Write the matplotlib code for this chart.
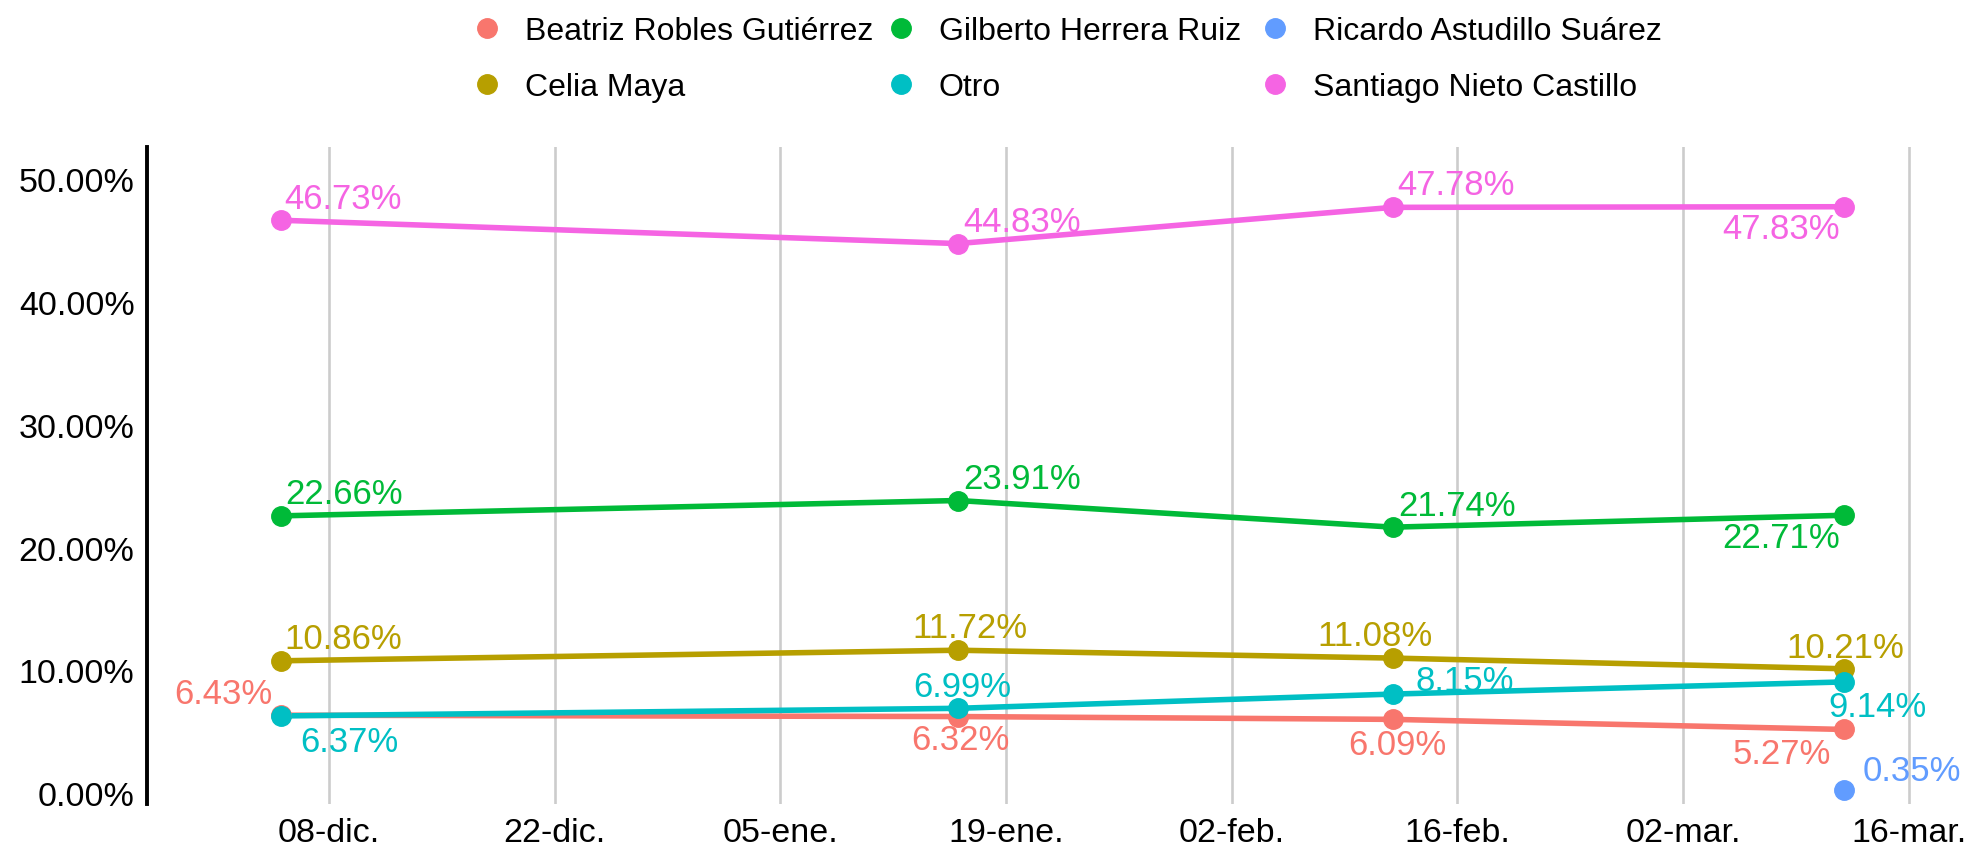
import matplotlib
matplotlib.use("Agg")
import matplotlib.pyplot as plt
import matplotlib.dates as mdates
from matplotlib.lines import Line2D
import numpy as np
import datetime as dt

plt.rcParams['font.family'] = ['Liberation Sans', 'DejaVu Sans']

# ---- data ----
dates = [dt.date(2024, 12, 5), dt.date(2025, 1, 16), dt.date(2025, 2, 12), dt.date(2025, 3, 12)]
candidates = ["Beatriz Robles Gutiérrez", "Celia Maya", "Gilberto Herrera Ruiz",
              "Otro", "Ricardo Astudillo Suárez", "Santiago Nieto Castillo"]
beatriz = [6.43, 6.32, 6.09, 5.27]
celia = [10.86, 11.72, 11.08, 10.21]
gilberto = [22.66, 23.91, 21.74, 22.71]
otro = [6.37, 6.99, 8.15, 9.14]
ricardo = [np.nan, np.nan, np.nan, 0.35]
santiago = [46.73, 44.83, 47.78, 47.83]
series = [beatriz, celia, gilberto, otro, ricardo, santiago]
tick_dates = [dt.date(2024, 12, 8), dt.date(2024, 12, 22), dt.date(2025, 1, 5), dt.date(2025, 1, 19),
              dt.date(2025, 2, 2), dt.date(2025, 2, 16), dt.date(2025, 3, 2), dt.date(2025, 3, 16)]
tick_labels = ["08-dic.", "22-dic.", "05-ene.", "19-ene.", "02-feb.", "16-feb.", "02-mar.", "16-mar."]
y_ticks = [0, 10, 20, 30, 40, 50]

# ---- styles ----
colors = ["#F8766D", "#B79F00", "#00BA38", "#00BFC4", "#619CFF", "#F564E3"]
# label placement (pixel offsets dx, dy(down), horizontal alignment)
label_pos = [
    [(-8, -21, 'right'), (3, 24, 'center'), (4, 26, 'center'), (-13, 25, 'right')],
    [(4, -21, 'left'), (12, -22, 'center'), (-18, -22, 'center'), (1, -20, 'center')],
    [(4, -21, 'left'), (5, -21, 'left'), (5, -21, 'left'), (-4, 23, 'right')],
    [(19, 26, 'left'), (5, -21, 'center'), (23, -13, 'left'), (33, 25, 'center')],
    [None, None, None, (18, -18, 'left')],
    [(3, -21, 'left'), (5, -21, 'left'), (4, -22, 'left'), (-4, 23, 'right')],
]
# legend layout in figure pixels: (marker x, row y)
leg_cols_x = [487, 901, 1275]
leg_rows_y = [28, 84]

W, H = 1970, 845
fig = plt.figure(figsize=(W / 100, H / 100 + 0.001), dpi=100)
ax = fig.add_axes([147 / W, 1 - 804 / H, (1941 - 147) / W, (804 - 147) / H])

xd = mdates.date2num(dates)
for name, vals, col, lp in zip(candidates, series, colors, label_pos):
    v = np.array(vals, dtype=float)
    ax.plot(xd, v, color=col, lw=4.0, solid_capstyle='round', zorder=3)
    ax.plot(xd, v, 'o', color=col, ms=14, zorder=4)
    for xi, yi, p in zip(xd, v, lp):
        if p is None or np.isnan(yi):
            continue
        dx, dy, ha = p
        ax.annotate(f"{yi:.2f}%", (xi, yi), xytext=(dx, -dy), textcoords='offset pixels',
                    ha=ha, va='center', color=col, fontsize=25, zorder=5)

ax.set_xticks(mdates.date2num(tick_dates))
ax.set_xticklabels(tick_labels)
ax.set_xlim(mdates.date2num(dt.date(2024, 11, 26)) + 0.7, mdates.date2num(dt.date(2025, 3, 18)))
ax.set_ylim(-0.8, 52.7)
ax.set_yticks(y_ticks)
ax.set_yticklabels([f"{t:.2f}%" for t in y_ticks])
ax.grid(axis='x', color='#CCCCCC', lw=1.9, zorder=0)
ax.grid(axis='y', visible=False)
for s in ['top', 'right', 'bottom']:
    ax.spines[s].set_visible(False)
ax.spines['left'].set_linewidth(2.8)
ax.spines['left'].set_color('black')
ax.tick_params(axis='both', length=0, labelsize=24.5, colors='black')
ax.tick_params(axis='y', pad=9)
ax.tick_params(axis='x', pad=10)

# legend (3 columns x 2 rows, filled column-wise)
for i, (name, col) in enumerate(zip(candidates, colors)):
    cx = leg_cols_x[i // 2]
    ry = leg_rows_y[i % 2]
    fig.add_artist(Line2D([cx / W], [1 - ry / H], marker='o', ms=14, color=col,
                          linestyle='none', transform=fig.transFigure))
    fig.text((cx + 38) / W, 1 - ry / H, name, ha='left', va='center_baseline',
             fontsize=23, color='black')

fig.savefig("out.png", dpi=100)
